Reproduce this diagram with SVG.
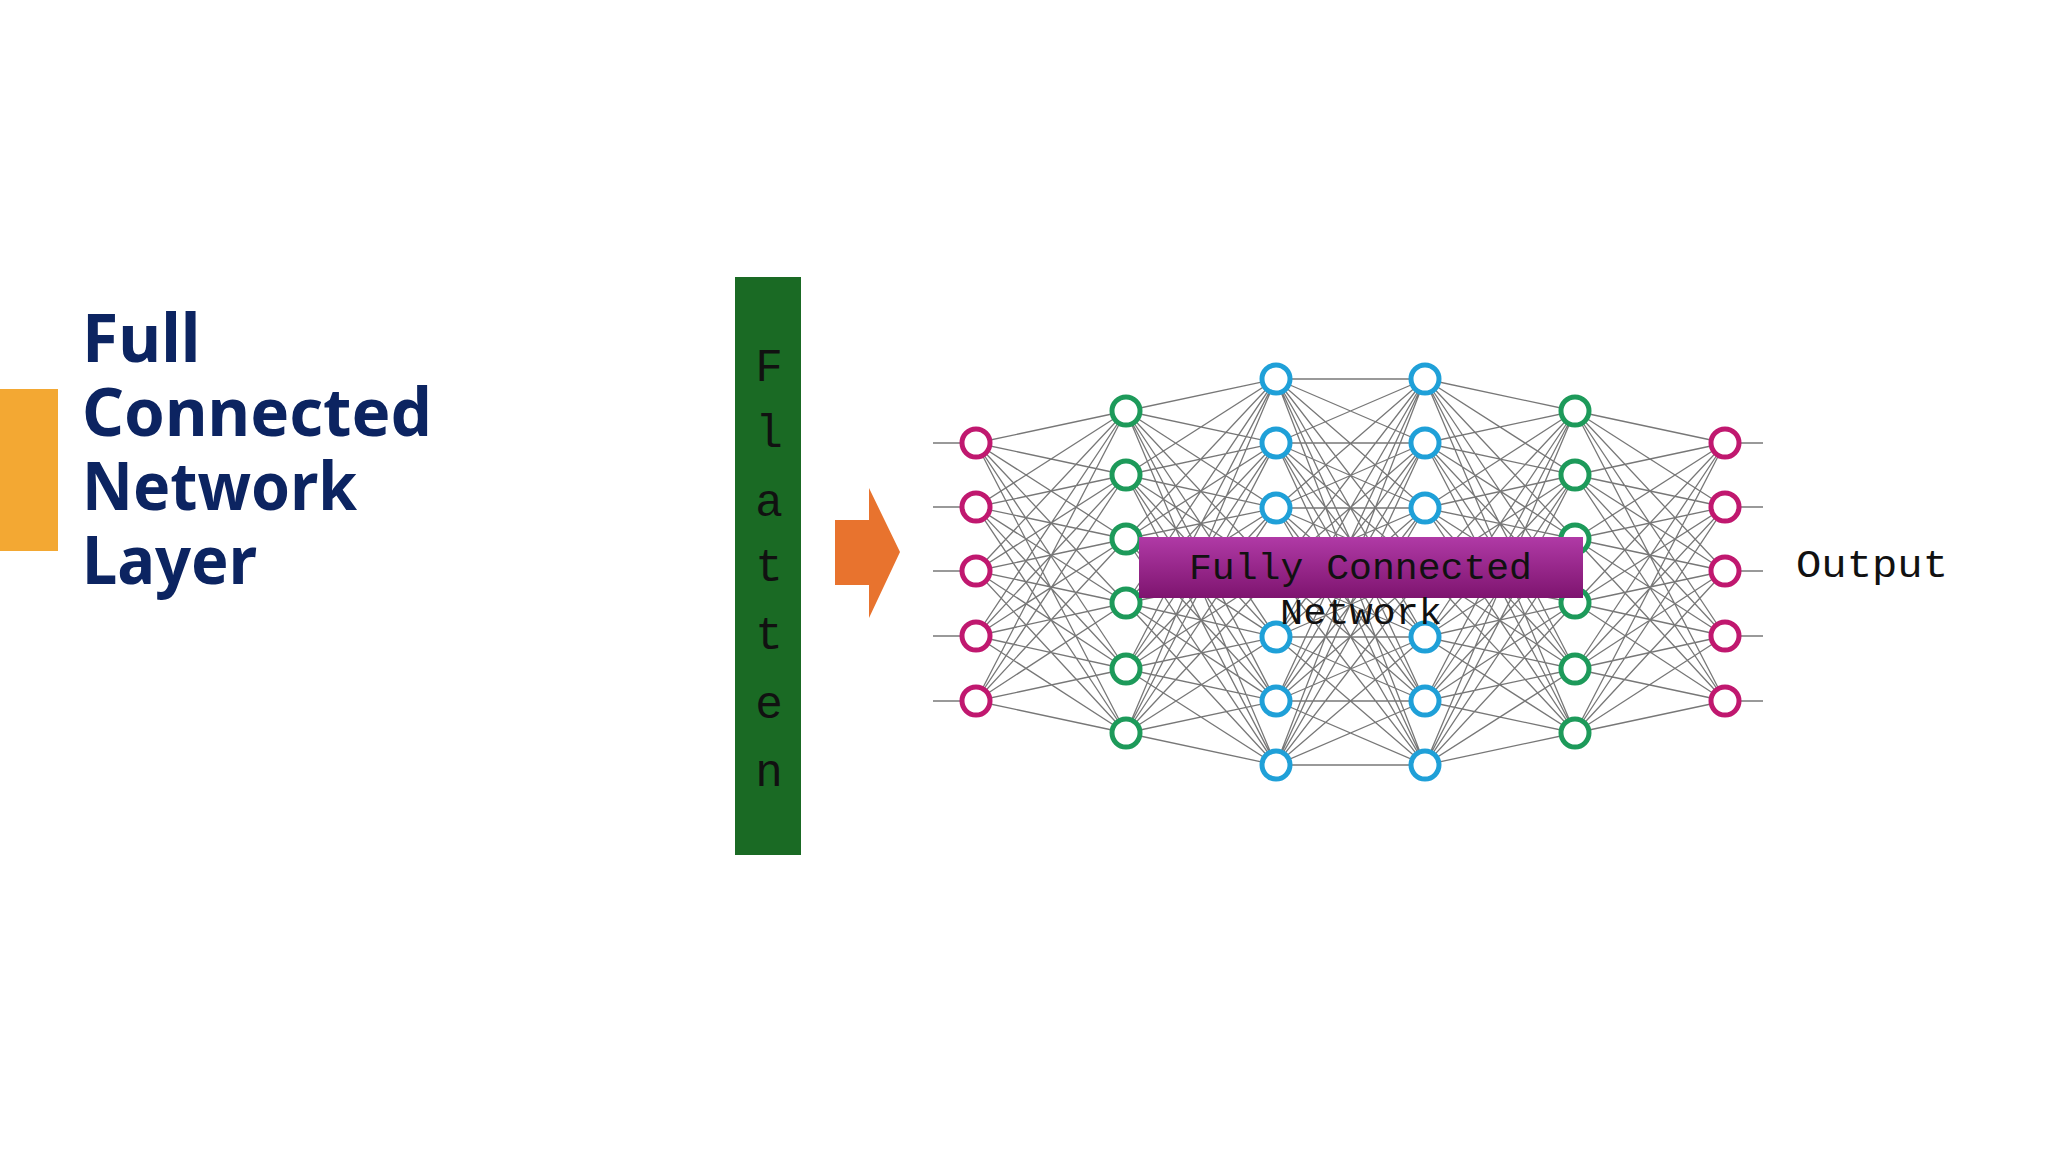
<svg xmlns="http://www.w3.org/2000/svg" width="2048" height="1152" viewBox="0 0 2048 1152">
<defs>
<linearGradient id="pg" x1="0" y1="0" x2="0" y2="1"><stop offset="0" stop-color="#b03aa6"/><stop offset="1" stop-color="#7e146f"/></linearGradient>
<style>
.t{font-family:"Noto Sans","Open Sans",sans-serif;font-weight:bold;font-size:66px;fill:#0c2461}
.m{font-family:"Liberation Mono","DejaVu Sans Mono",monospace;fill:#111}
.w{fill:none;stroke:#4a4a4a;stroke-width:1.3;stroke-opacity:.75}
.p{fill:#fff;stroke:#c0186f;stroke-width:5}
.g{fill:#fff;stroke:#1d9a5a;stroke-width:5}
.b{fill:#fff;stroke:#1fa0d8;stroke-width:5}
</style>
</defs>
<rect width="2048" height="1152" fill="#fff"/>
<g id="accent"><rect x="0" y="389" width="58" height="162" fill="#f3a833"/></g>
<g id="title">
<text class="t" x="82" y="362">Full</text>
<text class="t" x="82" y="436" textLength="350" lengthAdjust="spacingAndGlyphs">Connected</text>
<text class="t" x="82" y="510" textLength="275" lengthAdjust="spacingAndGlyphs">Network</text>
<text class="t" x="82" y="584" textLength="175" lengthAdjust="spacingAndGlyphs">Layer</text>
</g>
<g id="flatten">
<rect x="735" y="277" width="66" height="578" fill="#1a6a24"/>
<g class="m" font-size="46" text-anchor="middle">
<text x="769" y="381">F</text><text x="769" y="447">l</text><text x="769" y="516">a</text><text x="769" y="581">t</text><text x="769" y="649">t</text><text x="769" y="718">e</text><text x="769" y="786">n</text>
</g>
</g>
<g id="arrow"><polygon points="835,520 869,520 869,488 900,552 869,618 869,585 835,585" fill="#e8732e"/></g>
<g id="connectors">
<path class="w" d="M933 443H976M933 507H976M933 571H976M933 636H976M933 701H976M1725 443H1763M1725 507H1763M1725 571H1763M1725 636H1763M1725 701H1763"/>
<path class="w" d="M976 443L1126 411M976 443L1126 475M976 443L1126 539M976 443L1126 603M976 443L1126 669M976 443L1126 733M976 507L1126 411M976 507L1126 475M976 507L1126 539M976 507L1126 603M976 507L1126 669M976 507L1126 733M976 571L1126 411M976 571L1126 475M976 571L1126 539M976 571L1126 603M976 571L1126 669M976 571L1126 733M976 636L1126 411M976 636L1126 475M976 636L1126 539M976 636L1126 603M976 636L1126 669M976 636L1126 733M976 701L1126 411M976 701L1126 475M976 701L1126 539M976 701L1126 603M976 701L1126 669M976 701L1126 733"/>
<path class="w" d="M1126 411L1276 379M1126 411L1276 443M1126 411L1276 508M1126 411L1276 572M1126 411L1276 637M1126 411L1276 701M1126 411L1276 765M1126 475L1276 379M1126 475L1276 443M1126 475L1276 508M1126 475L1276 572M1126 475L1276 637M1126 475L1276 701M1126 475L1276 765M1126 539L1276 379M1126 539L1276 443M1126 539L1276 508M1126 539L1276 572M1126 539L1276 637M1126 539L1276 701M1126 539L1276 765M1126 603L1276 379M1126 603L1276 443M1126 603L1276 508M1126 603L1276 572M1126 603L1276 637M1126 603L1276 701M1126 603L1276 765M1126 669L1276 379M1126 669L1276 443M1126 669L1276 508M1126 669L1276 572M1126 669L1276 637M1126 669L1276 701M1126 669L1276 765M1126 733L1276 379M1126 733L1276 443M1126 733L1276 508M1126 733L1276 572M1126 733L1276 637M1126 733L1276 701M1126 733L1276 765"/>
<path class="w" d="M1276 379L1425 379M1276 379L1425 443M1276 379L1425 508M1276 379L1425 572M1276 379L1425 637M1276 379L1425 701M1276 379L1425 765M1276 443L1425 379M1276 443L1425 443M1276 443L1425 508M1276 443L1425 572M1276 443L1425 637M1276 443L1425 701M1276 443L1425 765M1276 508L1425 379M1276 508L1425 443M1276 508L1425 508M1276 508L1425 572M1276 508L1425 637M1276 508L1425 701M1276 508L1425 765M1276 572L1425 379M1276 572L1425 443M1276 572L1425 508M1276 572L1425 572M1276 572L1425 637M1276 572L1425 701M1276 572L1425 765M1276 637L1425 379M1276 637L1425 443M1276 637L1425 508M1276 637L1425 572M1276 637L1425 637M1276 637L1425 701M1276 637L1425 765M1276 701L1425 379M1276 701L1425 443M1276 701L1425 508M1276 701L1425 572M1276 701L1425 637M1276 701L1425 701M1276 701L1425 765M1276 765L1425 379M1276 765L1425 443M1276 765L1425 508M1276 765L1425 572M1276 765L1425 637M1276 765L1425 701M1276 765L1425 765"/>
<path class="w" d="M1575 411L1425 379M1575 411L1425 443M1575 411L1425 508M1575 411L1425 572M1575 411L1425 637M1575 411L1425 701M1575 411L1425 765M1575 475L1425 379M1575 475L1425 443M1575 475L1425 508M1575 475L1425 572M1575 475L1425 637M1575 475L1425 701M1575 475L1425 765M1575 539L1425 379M1575 539L1425 443M1575 539L1425 508M1575 539L1425 572M1575 539L1425 637M1575 539L1425 701M1575 539L1425 765M1575 603L1425 379M1575 603L1425 443M1575 603L1425 508M1575 603L1425 572M1575 603L1425 637M1575 603L1425 701M1575 603L1425 765M1575 669L1425 379M1575 669L1425 443M1575 669L1425 508M1575 669L1425 572M1575 669L1425 637M1575 669L1425 701M1575 669L1425 765M1575 733L1425 379M1575 733L1425 443M1575 733L1425 508M1575 733L1425 572M1575 733L1425 637M1575 733L1425 701M1575 733L1425 765"/>
<path class="w" d="M1725 443L1575 411M1725 443L1575 475M1725 443L1575 539M1725 443L1575 603M1725 443L1575 669M1725 443L1575 733M1725 507L1575 411M1725 507L1575 475M1725 507L1575 539M1725 507L1575 603M1725 507L1575 669M1725 507L1575 733M1725 571L1575 411M1725 571L1575 475M1725 571L1575 539M1725 571L1575 603M1725 571L1575 669M1725 571L1575 733M1725 636L1575 411M1725 636L1575 475M1725 636L1575 539M1725 636L1575 603M1725 636L1575 669M1725 636L1575 733M1725 701L1575 411M1725 701L1575 475M1725 701L1575 539M1725 701L1575 603M1725 701L1575 669M1725 701L1575 733"/>
</g>
<g id="nodes">
<circle class="p" cx="976" cy="443" r="14"/><circle class="p" cx="976" cy="507" r="14"/><circle class="p" cx="976" cy="571" r="14"/><circle class="p" cx="976" cy="636" r="14"/><circle class="p" cx="976" cy="701" r="14"/>
<circle class="g" cx="1126" cy="411" r="14"/><circle class="g" cx="1126" cy="475" r="14"/><circle class="g" cx="1126" cy="539" r="14"/><circle class="g" cx="1126" cy="603" r="14"/><circle class="g" cx="1126" cy="669" r="14"/><circle class="g" cx="1126" cy="733" r="14"/>
<circle class="b" cx="1276" cy="379" r="14"/><circle class="b" cx="1276" cy="443" r="14"/><circle class="b" cx="1276" cy="508" r="14"/><circle class="b" cx="1276" cy="637" r="14"/><circle class="b" cx="1276" cy="701" r="14"/><circle class="b" cx="1276" cy="765" r="14"/>
<circle class="b" cx="1425" cy="379" r="14"/><circle class="b" cx="1425" cy="443" r="14"/><circle class="b" cx="1425" cy="508" r="14"/><circle class="b" cx="1425" cy="637" r="14"/><circle class="b" cx="1425" cy="701" r="14"/><circle class="b" cx="1425" cy="765" r="14"/>
<circle class="g" cx="1575" cy="411" r="14"/><circle class="g" cx="1575" cy="475" r="14"/><circle class="g" cx="1575" cy="539" r="14"/><circle class="g" cx="1575" cy="603" r="14"/><circle class="g" cx="1575" cy="669" r="14"/><circle class="g" cx="1575" cy="733" r="14"/>
<circle class="p" cx="1725" cy="443" r="14"/><circle class="p" cx="1725" cy="507" r="14"/><circle class="p" cx="1725" cy="571" r="14"/><circle class="p" cx="1725" cy="636" r="14"/><circle class="p" cx="1725" cy="701" r="14"/>
</g>
<g id="fc-label">
<rect x="1139" y="537" width="444" height="61" fill="url(#pg)"/>
<text class="m" x="1189" y="579" font-size="36" textLength="343" lengthAdjust="spacingAndGlyphs">Fully Connected</text>
<text class="m" x="1280" y="624" font-size="36" textLength="162" lengthAdjust="spacingAndGlyphs">Network</text>
</g>
<g id="output"><text class="m" x="1796" y="577" font-size="38" textLength="152" lengthAdjust="spacingAndGlyphs">Output</text></g>
</svg>
